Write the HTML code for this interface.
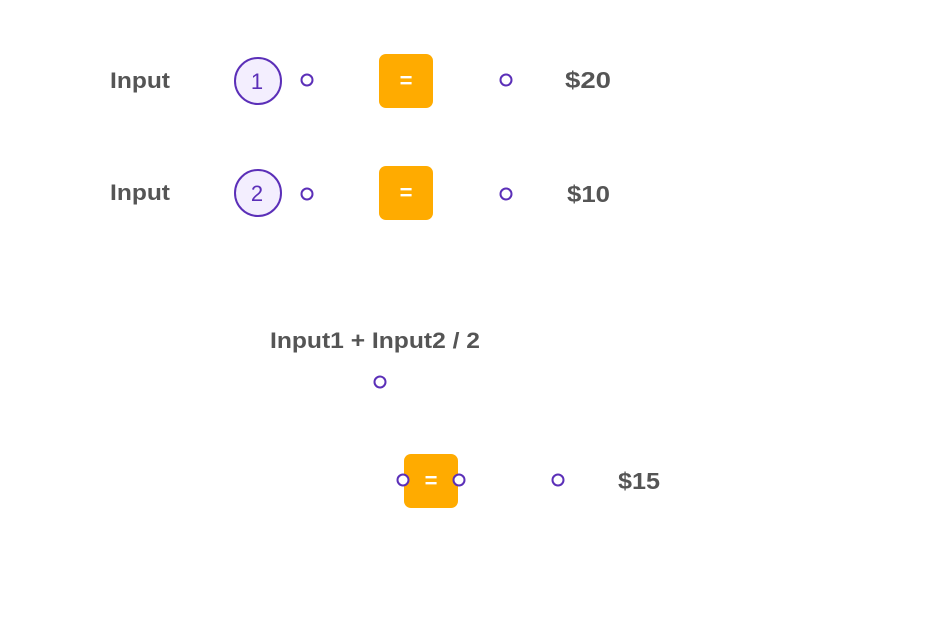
<!DOCTYPE html>
<html><head><meta charset="utf-8"><style>
html,body{margin:0;padding:0;background:#fff;width:935px;height:644px;overflow:hidden}
text{font-family:"Liberation Sans",sans-serif;font-weight:bold;fill:#555}
</style></head><body>
<svg width="935" height="644" viewBox="0 0 935 644" xmlns="http://www.w3.org/2000/svg">
<g>
<text x="110" y="88" font-size="22" textLength="60" lengthAdjust="spacingAndGlyphs">Input</text>
<circle cx="258" cy="81" r="23" fill="#f3eefe" stroke="#5b2fb8" stroke-width="2"/>
<text x="257" y="89" font-size="22" text-anchor="middle" style="fill:#5b2fb8;font-weight:normal">1</text>
<circle cx="307" cy="80" r="5.5" fill="#fff" stroke="#5b2fb8" stroke-width="2"/>
<rect x="379" y="54" width="54" height="54" rx="7" fill="#ffab00"/>
<text x="406" y="88" font-size="22" text-anchor="middle" style="fill:#fff">=</text>
<circle cx="506" cy="80" r="5.5" fill="#fff" stroke="#5b2fb8" stroke-width="2"/>
<text x="565" y="88" font-size="23" textLength="46" lengthAdjust="spacingAndGlyphs">$20</text>
</g>
<g>
<text x="110" y="200" font-size="22" textLength="60" lengthAdjust="spacingAndGlyphs">Input</text>
<circle cx="258" cy="193" r="23" fill="#f3eefe" stroke="#5b2fb8" stroke-width="2"/>
<text x="257" y="201" font-size="22" text-anchor="middle" style="fill:#5b2fb8;font-weight:normal">2</text>
<circle cx="307" cy="194" r="5.5" fill="#fff" stroke="#5b2fb8" stroke-width="2"/>
<rect x="379" y="166" width="54" height="54" rx="7" fill="#ffab00"/>
<text x="406" y="200" font-size="22" text-anchor="middle" style="fill:#fff">=</text>
<circle cx="506" cy="194" r="5.5" fill="#fff" stroke="#5b2fb8" stroke-width="2"/>
<text x="567" y="202" font-size="23" textLength="43" lengthAdjust="spacingAndGlyphs">$10</text>
</g>
<text x="270" y="348" font-size="22" textLength="210" lengthAdjust="spacingAndGlyphs">Input1 + Input2 / 2</text>
<circle cx="380" cy="382" r="5.5" fill="#fff" stroke="#5b2fb8" stroke-width="2"/>
<rect x="404" y="454" width="54" height="54" rx="7" fill="#ffab00"/>
<text x="431" y="488" font-size="22" text-anchor="middle" style="fill:#fff">=</text>
<circle cx="403" cy="480" r="5.5" fill="#fff" stroke="#5b2fb8" stroke-width="2"/>
<circle cx="459" cy="480" r="5.5" fill="#fff" stroke="#5b2fb8" stroke-width="2"/>
<circle cx="558" cy="480" r="5.5" fill="#fff" stroke="#5b2fb8" stroke-width="2"/>
<text x="618" y="489" font-size="23" textLength="42" lengthAdjust="spacingAndGlyphs">$15</text>
</svg>
</body></html>
